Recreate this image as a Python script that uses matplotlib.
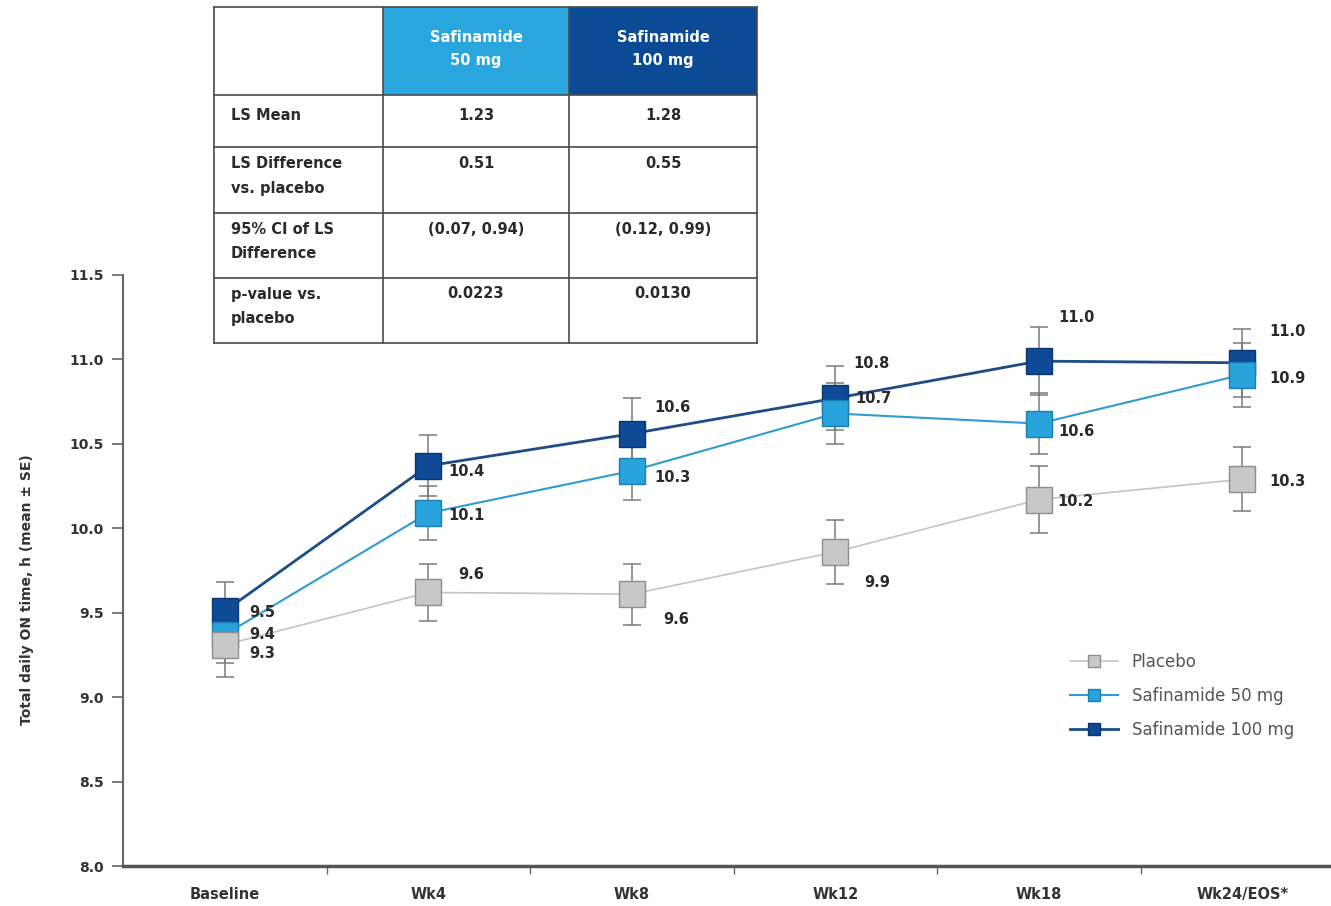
import matplotlib
matplotlib.use("Agg")
import matplotlib.pyplot as plt
from matplotlib.patches import Rectangle
from matplotlib.lines import Line2D

# visits on the x axis
visits = ["Baseline", "Wk4", "Wk8", "Wk12", "Wk18", "Wk24/EOS*"]

# mean total daily ON time (h) and standard errors
placebo = [9.31, 9.62, 9.61, 9.86, 10.17, 10.29]
placebo_se = [0.19, 0.17, 0.18, 0.19, 0.20, 0.19]
saf50 = [9.37, 10.09, 10.34, 10.68, 10.62, 10.91]
saf50_se = [0.17, 0.16, 0.17, 0.18, 0.18, 0.19]
saf100 = [9.51, 10.37, 10.56, 10.77, 10.99, 10.98]
saf100_se = [0.17, 0.18, 0.21, 0.19, 0.20, 0.20]

series_names = ["Placebo", "Safinamide 50 mg", "Safinamide 100 mg"]

# summary table
table_cols = ["Safinamide\n50 mg", "Safinamide\n100 mg"]
table_rows = ["LS Mean", "LS Difference\nvs. placebo", "95% CI of LS\nDifference", "p-value vs.\nplacebo"]
table_50 = ["1.23", "0.51", "(0.07, 0.94)", "0.0223"]
table_100 = ["1.28", "0.55", "(0.12, 0.99)", "0.0130"]

W, H = 1331, 906
fig = plt.figure(figsize=(W / 100, H / 100), dpi=100)
ax_w = 6 * 203.5
ax = fig.add_axes([123 / W, 40 / H, ax_w / W, (866 - 275) / H])

styles = [
    # line colour, line width, face, edge, zorder
    ("#c4c4c4", 1.2, "#c8c8c8", "#8e8e8e", 5),
    ("#2f9bd0", 1.5, "#29a3dc", "#1c7db3", 4),
    ("#1d4c86", 2.0, "#0e4a95", "#0a3670", 3),
]
data = [(placebo, placebo_se), (saf50, saf50_se), (saf100, saf100_se)]
x = list(range(len(visits)))

for (vals, se), (lc, lw, fc, ec, z) in zip(data, styles):
    ax.errorbar(x, vals, yerr=se, fmt="none", ecolor="#7a7a7a", elinewidth=1.1,
                capsize=6.5, capthick=1.1, zorder=1.5)
    ax.plot(x, vals, color=lc, lw=lw, zorder=2)
    ax.plot(x, vals, ls="none", marker="s", ms=19, mfc=fc, mec=ec, mew=1.0, zorder=z)

# value labels: offset (px right, px down) from each marker
offsets = [
    [(25, 9), (30, -18), (31, 25), (29, 31), (19, 2), (27, 2)],
    [(25, 0), (20, 2), (23, 7), (20, -15), (20, 8), (27, 4)],
    [(25, 1), (20, 6), (23, -26), (18, -35), (20, -44), (27, -31)],
]
for (vals, _), offs in zip(data, offsets):
    for i, v in enumerate(vals):
        dx, dy = offs[i]
        ax.annotate(f"{v:.1f}", (i, v), xytext=(dx * 0.72, -dy * 0.72),
                    textcoords="offset points", ha="left", va="center",
                    fontsize=10.5, fontweight="bold", color="#2a2a2a", zorder=6)

ax.set_xlim(-0.5, 5.5)
ax.set_ylim(8.0, 11.5)
ax.set_yticks([8.0, 8.5, 9.0, 9.5, 10.0, 10.5, 11.0, 11.5])
ax.set_yticklabels([f"{t:.1f}" for t in ax.get_yticks()], fontsize=10, fontweight="bold", color="#333333")
ax.set_xticks(x)
ax.set_xticklabels(visits, fontsize=10.5, fontweight="bold", color="#333333")
ax.set_xticks([i + 0.5 for i in range(5)], minor=True)
ax.tick_params(axis="x", which="major", length=0, pad=15)
ax.tick_params(axis="x", which="minor", length=6, width=1, color="#666666")
ax.tick_params(axis="y", length=8, width=1.2, color="#666666", pad=6)
for s in ["top", "right"]:
    ax.spines[s].set_visible(False)
ax.spines["left"].set_color("#666666")
ax.spines["left"].set_linewidth(1.5)
ax.spines["bottom"].set_color("#555555")
ax.spines["bottom"].set_linewidth(2.5)
ax.set_ylabel("Total daily ON time, h (mean ± SE)", fontsize=10, fontweight="bold", color="#333333")
ax.yaxis.set_label_coords((34 - 123) / ax_w, 0.468)

handles = [Line2D([0], [0], color=lc, lw=lw, marker="s", ms=9, mfc=fc, mec=ec)
           for lc, lw, fc, ec, z in styles]
fig.legend(handles, series_names, loc="upper left", bbox_to_anchor=(1070 / W, 1 - 653 / H),
           frameon=False, fontsize=12, labelcolor="#555555", handlelength=2.9,
           handletextpad=0.8, labelspacing=0.95, borderpad=0, borderaxespad=0)

# summary table drawn in pixel coordinates on top of the chart
tab = fig.add_axes([0, 0, 1, 1], zorder=10)
tab.set_xlim(0, W)
tab.set_ylim(H, 0)
tab.axis("off")
col_edges = [214, 383, 569, 757]
row_edges = [7, 95, 147, 213, 278, 343]
head_fill = ["#2aa6de", "#0b4a94"]
tab.add_patch(Rectangle((col_edges[0], row_edges[0]), col_edges[-1] - col_edges[0],
                        row_edges[-1] - row_edges[0], facecolor="white", edgecolor="none"))
for j, fill in enumerate(head_fill):
    tab.add_patch(Rectangle((col_edges[j + 1], row_edges[0]), col_edges[j + 2] - col_edges[j + 1],
                            row_edges[1] - row_edges[0], facecolor=fill, edgecolor="none"))
for ce in col_edges:
    tab.plot([ce, ce], [row_edges[0], row_edges[-1]], color="#4a4a4a", lw=1.2)
for re in row_edges:
    tab.plot([col_edges[0], col_edges[-1]], [re, re], color="#4a4a4a", lw=1.2)

for j, name in enumerate(table_cols):
    cx = (col_edges[j + 1] + col_edges[j + 2]) / 2
    for k, line in enumerate(name.split("\n")):
        tab.text(cx, 38 + 23 * k, line, ha="center", va="center", color="white",
                 fontsize=10.5, fontweight="bold")
line_y = [116, 164, 230, 294]
for r, label in enumerate(table_rows):
    for k, line in enumerate(label.split("\n")):
        tab.text(231, line_y[r] + 24 * k, line, ha="left", va="center", color="#2a2a2a",
                 fontsize=10.5, fontweight="bold")
    for j, val in enumerate([table_50[r], table_100[r]]):
        cx = (col_edges[j + 1] + col_edges[j + 2]) / 2
        tab.text(cx, line_y[r], val, ha="center", va="center", color="#2a2a2a",
                 fontsize=10.5, fontweight="bold")

fig.savefig("out.png", dpi=100)
